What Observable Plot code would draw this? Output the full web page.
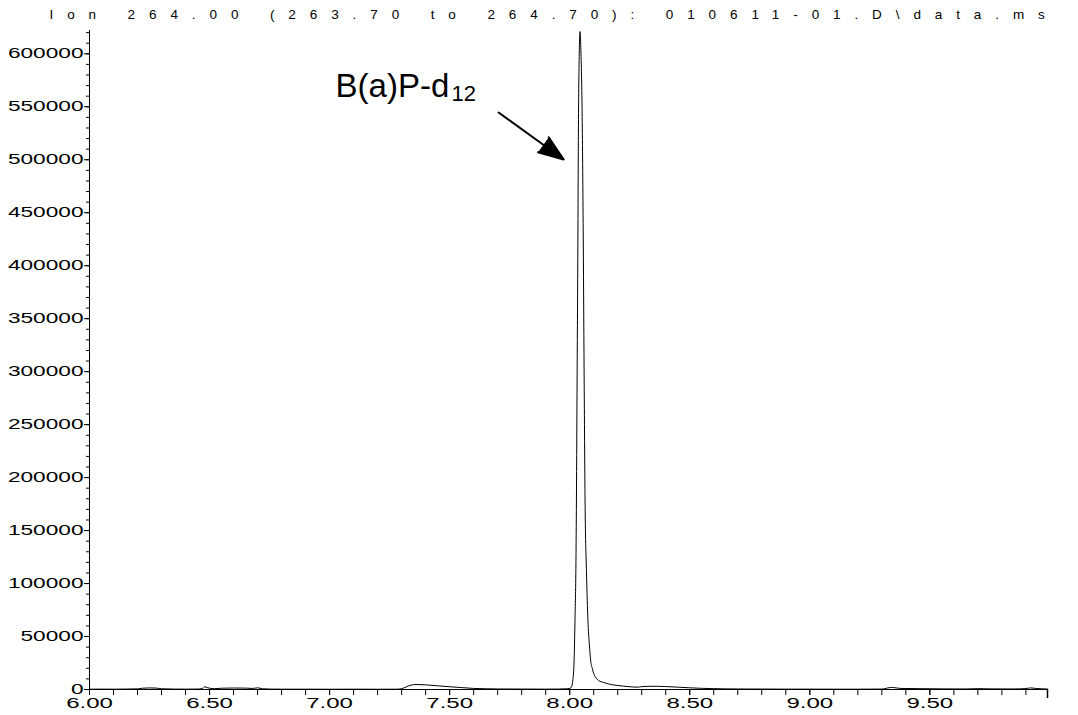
<!DOCTYPE html>
<html>
<head>
<meta charset="utf-8">
<script src="https://cdn.jsdelivr.net/npm/d3@7"></script>
<script src="https://cdn.jsdelivr.net/npm/@observablehq/plot@0.6"></script>
<style>
  html, body { margin: 0; padding: 0; background: #fff; overflow: hidden; }
  #chart { width: 1078px; height: 715px; overflow: hidden; }
</style>
</head>
<body>
<div id="chart"></div>
<script>
// ---- Data ----
const titleText = "Ion 264.00 (263.70 to 264.70): 010611-01.D\\data.ms";

const retentionTime = [
  6.00, 6.05, 6.10, 6.15, 6.20, 6.22, 6.25, 6.28, 6.30, 6.35, 6.40, 6.45, 6.47, 6.48, 6.49, 6.50,
  6.52, 6.55, 6.60, 6.65, 6.68, 6.70, 6.72, 6.75, 6.80, 6.90, 7.00, 7.10, 7.20, 7.28, 7.30, 7.32,
  7.34, 7.36, 7.40, 7.45, 7.50, 7.55, 7.60, 7.65, 7.70, 7.80, 7.90, 7.95, 7.99, 8.005, 8.0125, 8.018,
  8.022, 8.026, 8.028, 8.031, 8.034, 8.036, 8.039, 8.043, 8.047, 8.052, 8.056, 8.060, 8.064, 8.070, 8.076,
  8.082, 8.0875, 8.094, 8.100, 8.110, 8.120, 8.142, 8.170, 8.200, 8.250, 8.283, 8.30, 8.33, 8.37,
  8.40, 8.45, 8.50, 8.55, 8.60, 8.65, 8.70, 8.80, 8.90, 9.00, 9.10, 9.20, 9.30, 9.32, 9.34, 9.36,
  9.38, 9.45, 9.55, 9.65, 9.70, 9.75, 9.85, 9.90, 9.92, 9.94, 9.97, 9.99
];
const abundance = [
  300, 350, 300, 400, 600, 1200, 1500, 1300, 700, 400, 350, 400, 900, 2600, 1800, 1200,
  800, 1200, 1400, 1300, 1000, 1600, 700, 400, 300, 300, 250, 300, 250, 300, 800, 2500,
  4200, 4700, 4400, 3500, 2600, 1800, 1000, 700, 500, 400, 350, 400, 700, 1500, 8000, 25000,
  65000, 120000, 178000, 300000, 420000, 518000, 590000, 621000, 600000, 540000, 440000, 300000, 178000, 110000, 65000,
  42000, 27000, 20000, 15000, 11000, 8500, 6600, 4800, 3800, 2600, 2200, 2700, 3000, 3000,
  2800, 2200, 1600, 1100, 800, 600, 500, 400, 350, 350, 300, 300, 400, 1200, 2000, 1500,
  1000, 800, 600, 500, 800, 600, 500, 900, 1500, 1000, 600, 500
];

// Tick values and labels
const xMajorTicks = [6.0, 6.5, 7.0, 7.5, 8.0, 8.5, 9.0, 9.5];
const xMinorTicks = [6.0, 6.1, 6.2, 6.3, 6.4, 6.5, 6.6, 6.7, 6.8, 6.9, 7.0, 7.1, 7.2, 7.3, 7.4, 7.5,
  7.6, 7.7, 7.8, 7.9, 8.0, 8.1, 8.2, 8.3, 8.4, 8.5, 8.6, 8.7, 8.8, 8.9, 9.0, 9.1, 9.2, 9.3, 9.4, 9.5,
  9.6, 9.7, 9.8, 9.9];
const xEndTick = [9.99];
const yMajorTicks = [0, 50000, 100000, 150000, 200000, 250000, 300000, 350000, 400000, 450000,
  500000, 550000, 600000];
const yMinorTicks = [0, 10000, 20000, 30000, 40000, 50000, 60000, 70000, 80000, 90000, 100000,
  110000, 120000, 130000, 140000, 150000, 160000, 170000, 180000, 190000, 200000, 210000, 220000,
  230000, 240000, 250000, 260000, 270000, 280000, 290000, 300000, 310000, 320000, 330000, 340000,
  350000, 360000, 370000, 380000, 390000, 400000, 410000, 420000, 430000, 440000, 450000, 460000,
  470000, 480000, 490000, 500000, 510000, 520000, 530000, 540000, 550000, 560000, 570000, 580000,
  590000, 600000, 610000, 620000];

// Annotation (data coordinates)
const peakLabel = [{t: 7.025, v: 558800, text: "B(a)P-d"}];
const peakLabelSub = [{t: 7.508, v: 555000, text: "12"}];
const peakArrow = [{t1: 7.704, v1: 544600, t2: 7.975, v2: 500300}];

// ---- Build ----
const data = retentionTime.map((t, i) => ({t, v: abundance[i]}));

const plot = Plot.plot({
  width: 1078,
  height: 715,
  marginLeft: 89,
  marginRight: 31,
  marginTop: 30,
  marginBottom: 26,
  style: {fontFamily: "'Liberation Sans', Arial, sans-serif", background: "#fff", color: "#000", overflow: "hidden"},
  x: {domain: [6, 9.99]},
  y: {domain: [0, 622000]},
  marks: [
    Plot.ruleX([6], {stroke: "#000", strokeWidth: 1}),
    Plot.ruleY([0], {stroke: "#000", strokeWidth: 1}),
    Plot.axisY({ticks: yMinorTicks, tickSize: 3, text: null, label: null, stroke: "#000"}),
    Plot.axisY({ticks: yMajorTicks, tickSize: 5, tickPadding: 1, label: null, fontSize: 14,
      tickFormat: d => String(d), stroke: "#000", fill: "#000"}),
    Plot.axisX({ticks: xMinorTicks, tickSize: 6, text: null, label: null, stroke: "#000"}),
    Plot.axisX({ticks: xMajorTicks, tickSize: 6, tickPadding: 3, label: null, fontSize: 14,
      tickFormat: d => d.toFixed(2), stroke: "#000", fill: "#000"}),
    Plot.axisX({ticks: xEndTick, tickSize: 9, text: null, label: null, stroke: "#000", strokeWidth: 1.5}),
    Plot.line(data, {x: "t", y: "v", stroke: "#000", strokeWidth: 1, curve: "monotone-x"}),
    Plot.arrow(peakArrow, {x1: "t1", y1: "v1", x2: "t2", y2: "v2", stroke: "#000", strokeWidth: 2,
      headLength: 20, headAngle: 40}),
    Plot.text(peakLabel, {x: "t", y: "v", text: "text", textAnchor: "start", lineAnchor: "bottom",
      fontSize: 33, fill: "#000"}),
    Plot.text(peakLabelSub, {x: "t", y: "v", text: "text", textAnchor: "start", lineAnchor: "bottom",
      fontSize: 22, fill: "#000"}),
    Plot.text([titleText], {frameAnchor: "top-left", dx: -40, dy: -12, textAnchor: "start",
      lineAnchor: "bottom", fontSize: 13.5, fill: "#000"})
  ]
});

document.getElementById("chart").appendChild(plot);

// Filled arrow head
plot.querySelectorAll('g[aria-label="arrow"] path').forEach(p => p.setAttribute("fill", "#000"));
// Wide-spaced title
plot.querySelectorAll('text').forEach(t => {
  if (t.textContent === titleText) t.style.letterSpacing = "13.9px";
});
// Horizontally stretched tick labels, as in the instrument print-out
function stretch(sel) {
  plot.querySelectorAll(sel).forEach(t => {
    const s = t.textContent;
    let w = 0;
    for (const c of s) w += (c === ".") ? 8.9 : 12.6;
    t.setAttribute("textLength", w);
    t.setAttribute("lengthAdjust", "spacingAndGlyphs");
  });
}
stretch('g[aria-label="y-axis tick label"] text');
stretch('g[aria-label="x-axis tick label"] text');
</script>
</body>
</html>
